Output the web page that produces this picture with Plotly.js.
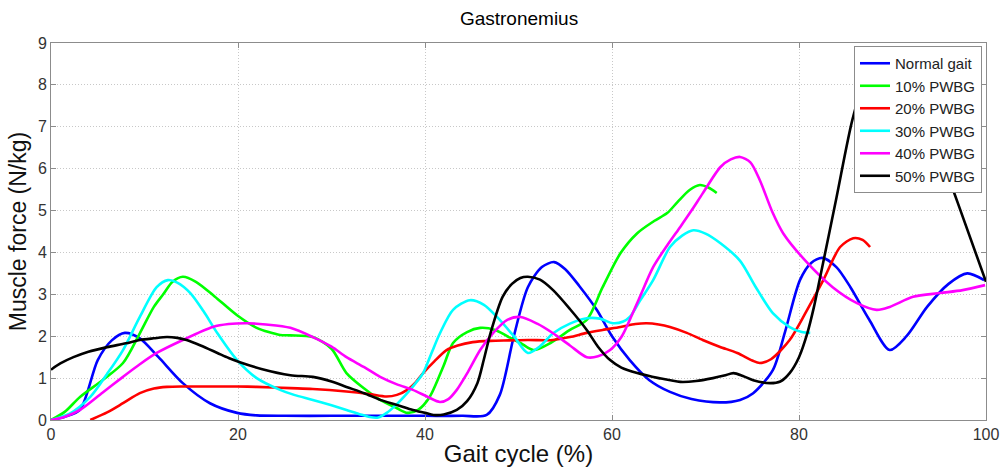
<!DOCTYPE html>
<html><head><meta charset="utf-8">
<script src="https://cdn.plot.ly/plotly-3.0.1.min.js"></script>
<style>html,body{margin:0;padding:0;background:#fff}#chart{width:1003px;height:470px}</style>
</head><body><div id="chart"></div>
<script>
const seriesNames = ["Normal gait","10% PWBG","20% PWBG","30% PWBG","40% PWBG","50% PWBG"];
const seriesColors = ["#0000ff","#00ff00","#ff0000","#00ffff","#ff00ff","#000000"];

const normalX = [0,1.5,3.1,5,6.5,7.9,9.5,11.5,14.1,17,19.9,22,25,30,35,40,44,46.6,48,49.5,51,52.5,53.8,55,56.5,58.4,60,61.9,64,66.2,68.5,71.6,73.7,75.1,77.2,78.5,80.1,81.3,82.5,84,85.5,87.5,89.7,91.5,93.7,96,98,99.8];
const normalY = [0,0.08,0.24,1.43,1.9,2.08,1.95,1.5,0.88,0.4,0.17,0.11,0.1,0.1,0.1,0.1,0.1,0.12,0.6,2.0,3.17,3.65,3.77,3.6,3.2,2.62,2.0,1.43,0.95,0.67,0.5,0.42,0.48,0.64,1.19,2.1,3.34,3.75,3.87,3.65,3.17,2.4,1.67,2.0,2.7,3.25,3.5,3.34];

const g10X = [0,1.5,3.1,5.5,7.7,9.5,11,12,13,14.1,15.5,17.5,19.9,22,24.5,25.6,28,30,31.6,33.5,35.2,37,38.1,39.3,40.5,42,43,44.5,45.9,47.5,48.8,50.2,51.6,53.5,55.5,57.3,59,60.9,62.7,64.5,65.9,67,68.3,69.4,70.3,71.2];
const g10Y = [0,0.2,0.55,0.95,1.36,2.07,2.7,3.0,3.3,3.42,3.3,2.95,2.5,2.2,2.03,2.02,1.98,1.7,1.12,0.75,0.48,0.28,0.17,0.25,0.55,1.3,1.84,2.1,2.2,2.15,2.0,1.84,1.67,1.85,2.15,2.39,3.17,3.98,4.46,4.75,4.94,5.2,5.49,5.61,5.55,5.42];

const g20X = [4.2,6,7.7,9.5,11,12.4,14.1,17,19.9,22,25.6,28,31.6,34,35.9,37,38.1,39,39.8,41,42.3,43.5,45.1,47,49,51,53.7,55.5,57.3,59,60.9,62.5,63.7,65,66.2,68,69.7,71.5,73.4,75,75.8,77,79,80.8,82.6,84.4,85.8,86.8,87.6];
const g20Y = [0,0.18,0.4,0.64,0.75,0.79,0.8,0.8,0.8,0.79,0.76,0.74,0.68,0.62,0.56,0.6,0.72,0.9,1.12,1.4,1.67,1.78,1.86,1.89,1.9,1.91,1.91,1.98,2.08,2.15,2.22,2.29,2.31,2.28,2.22,2.08,1.91,1.75,1.6,1.42,1.36,1.45,1.91,2.6,3.34,4.13,4.34,4.3,4.13];

const g30X = [0,2,4.2,6,7.7,9.5,11.3,12.5,13.5,14.9,16.3,17.8,19.9,22,24.5,26,28,30,31.6,33,34.1,35,35.9,37,38.1,39,39.8,40.7,41.6,43,44.8,46.3,47.7,49.5,51,52.3,53.7,55.5,57.3,58.7,60.1,61.2,61.9,63,64.4,66.2,67.5,68.7,70,71.6,73.7,75.3,77.2,79,80.3,81.2];
const g30Y = [0,0.15,0.55,1.1,1.67,2.46,3.17,3.34,3.28,3.03,2.6,2.07,1.43,1.0,0.72,0.6,0.48,0.35,0.24,0.14,0.07,0.06,0.17,0.38,0.64,0.88,1.12,1.6,2.07,2.63,2.86,2.75,2.46,2.0,1.6,1.76,2.07,2.3,2.43,2.42,2.31,2.35,2.46,2.85,3.34,4.13,4.4,4.53,4.45,4.22,3.8,3.2,2.55,2.22,2.1,2.08];

const g40X = [0,1.5,3.1,5.5,7.7,9.5,11.3,14.1,17.3,19,21,23,25.6,28,30,31.6,33.5,35.2,37,38.7,40.3,41.6,42.5,43.4,44.6,45.9,47.3,48.8,50.2,52,53.7,55.5,57.3,58.5,59.8,61,61.9,63,64.4,66,67.3,68.5,69.7,71.6,72.7,73.7,74.8,75.8,77.2,78.3,80.9,83.6,86.2,88.3,89.7,92.2,95.1,97.5,99.9];
const g40Y = [0,0.08,0.24,0.65,1.03,1.33,1.6,1.91,2.22,2.29,2.31,2.28,2.2,1.98,1.75,1.5,1.26,1.03,0.85,0.72,0.55,0.43,0.5,0.72,1.15,1.67,2.08,2.39,2.46,2.3,2.07,1.78,1.5,1.52,1.67,1.98,2.39,2.95,3.65,4.2,4.61,5.0,5.41,6.04,6.22,6.28,6.15,5.73,4.94,4.46,3.75,3.17,2.79,2.63,2.7,2.94,3.03,3.1,3.22];

const g50X = [0,1,2.4,4,6,8,9.5,11,12.4,13.5,14.5,16,17.8,19,20.2,22.5,25.6,28,30,31.6,33.5,35.2,37,38.7,40,40.9,42,43.4,44.5,45.6,46.3,47,48.3,49.3,50.2,51,52.3,53.7,55.5,57.3,58.5,59.8,61,62.7,65,67.3,69,70.8,72,73,74,75.1,76.9,78,79,80,80.9,81.6,82.2,84,85.7,87,88.5,90,91.5,93,96.1,97,100];
const g50Y = [1.2,1.35,1.5,1.63,1.74,1.83,1.91,1.95,1.98,1.96,1.91,1.78,1.6,1.48,1.38,1.22,1.07,1.03,0.92,0.79,0.64,0.48,0.36,0.24,0.17,0.12,0.13,0.24,0.45,0.88,1.45,2.07,2.94,3.25,3.39,3.42,3.35,3.1,2.65,2.15,1.75,1.43,1.25,1.12,1.0,0.91,0.93,1.0,1.06,1.12,1.05,0.95,0.88,0.92,1.12,1.5,2.08,2.7,3.34,5.3,7.16,8.1,8.6,8.7,8.5,7.6,5.73,5.17,3.3];

const xs = [normalX,g10X,g20X,g30X,g40X,g50X];
const ys = [normalY,g10Y,g20Y,g30Y,g40Y,g50Y];

const traces = seriesNames.map((n,i)=>({
  x: xs[i], y: ys[i], name: n, type: 'scatter', mode: 'lines',
  line: {color: seriesColors[i], width: 2.6, shape: 'spline', smoothing: 0.8}
}));

const fontFam = 'Liberation Sans, Arial, sans-serif';
const layout = {
  width: 1003, height: 470,
  margin: {l: 51, r: 17, t: 43, b: 50},
  paper_bgcolor: '#fff', plot_bgcolor: '#fff',
  font: {family: fontFam, color: '#000'},
  title: {text: 'Gastronemius', font: {family: fontFam, size: 19, color: '#000'}, x: 0.5175, xanchor: 'center', y: 0.962, yanchor: 'middle'},
  showlegend: true,
  legend: {x: 0.9957, xanchor: 'right', y: 0.992, yanchor: 'top', bgcolor: '#fff', bordercolor: '#8c8c8c', borderwidth: 1,
    font: {family: fontFam, size: 15, color: '#222'}, itemwidth: 30, tracegroupgap: 0},
  xaxis: {range: [0,100], tickvals: [0,20,40,60,80,100], ticktext: ['0','20','40','60','80','100'],
    showgrid: true, gridcolor: '#c8c8c8', griddash: '1px,2px', gridwidth: 1,
    showline: true, linecolor: '#8c8c8c', linewidth: 1, mirror: 'ticks',
    ticks: 'inside', ticklen: 5, tickcolor: '#8c8c8c', zeroline: false,
    tickfont: {family: fontFam, size: 16, color: '#333'},
    title: {text: 'Gait cycle (%)', font: {family: fontFam, size: 24, color: '#111'}, standoff: 2}},
  yaxis: {range: [0,9], tickvals: [0,1,2,3,4,5,6,7,8,9], ticktext: ['0','1','2','3','4','5','6','7','8','9'],
    showgrid: true, gridcolor: '#c8c8c8', griddash: '1px,2px', gridwidth: 1,
    showline: true, linecolor: '#8c8c8c', linewidth: 1, mirror: 'ticks',
    ticks: 'inside', ticklen: 5, tickcolor: '#8c8c8c', zeroline: false,
    tickfont: {family: fontFam, size: 16, color: '#333'},
    title: {text: 'Muscle force (N/kg)', font: {family: fontFam, size: 23, color: '#111'}, standoff: 4}}
};
Plotly.newPlot('chart', traces, layout, {displayModeBar: false, staticPlot: true});
</script>
</body></html>
